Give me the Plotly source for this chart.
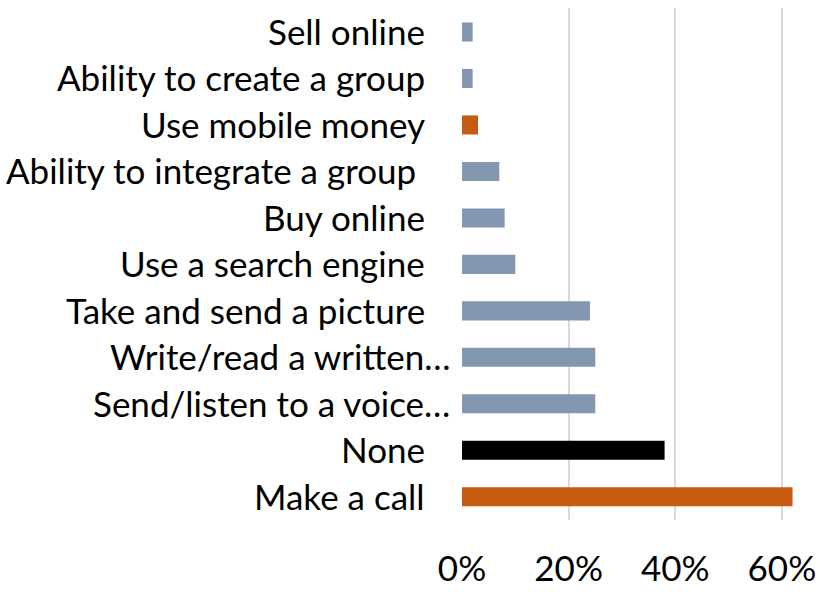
import plotly.graph_objects as go

# Survey: share of respondents able to perform each mobile-phone task
tasks = [
    "Make a call",
    "None",
    "Send/listen to a voice…",
    "Write/read a written…",
    "Take and send a picture",
    "Use a search engine",
    "Buy online",
    "Ability to integrate a group ",
    "Use mobile money",
    "Ability to create a group",
    "Sell online",
]
shares = [0.62, 0.38, 0.25, 0.25, 0.24, 0.10, 0.08, 0.07, 0.03, 0.02, 0.02]
x_ticks = [0, 0.2, 0.4, 0.6]
x_tick_labels = ["0%", "20%", "40%", "60%"]

BLUE_GREY = "#8497B0"
ORANGE = "#C55A11"
BLACK = "#000000"
highlight = {"Make a call": ORANGE, "Use mobile money": ORANGE, "None": BLACK}
colors = [highlight.get(t, BLUE_GREY) for t in tasks]

FONT = "Lato"
FONT_SIZE = 35

fig = go.Figure(
    go.Bar(
        x=shares,
        y=tasks,
        orientation="h",
        marker=dict(color=colors, line=dict(width=0)),
        hoverinfo="x+y",
    )
)

# Category labels drawn as annotations so truncated names can sit further right
annotations = []
for t in tasks:
    shift = -10 if t.endswith("…") else -35
    annotations.append(
        dict(
            x=0,
            xref="paper",
            y=t,
            yref="y",
            text=t.replace(" ", "\u00a0") if t.endswith(" ") else t,
            xanchor="right",
            yanchor="middle",
            xshift=shift,
            yshift=1,
            showarrow=False,
            font=dict(family=FONT, size=FONT_SIZE, color="#000000"),
        )
    )

fig.update_layout(
    width=820,
    height=592,
    margin=dict(l=462, r=20, t=8, b=72, autoexpand=False),
    paper_bgcolor="white",
    plot_bgcolor="white",
    bargap=0.59,
    showlegend=False,
    font=dict(family=FONT, size=FONT_SIZE, color="#000000"),
    annotations=annotations,
    xaxis=dict(
        range=[0, 0.634],
        tickvals=x_ticks,
        ticktext=x_tick_labels,
        showgrid=True,
        gridcolor="#D9D9D9",
        gridwidth=2,
        zeroline=False,
        showline=False,
        ticks="",
        automargin=False,
        ticklabelstandoff=25,
        tickfont=dict(family=FONT, size=FONT_SIZE, color="#000000"),
    ),
    yaxis=dict(
        categoryorder="array",
        categoryarray=tasks,
        showticklabels=False,
        showgrid=False,
        zeroline=False,
        showline=False,
        ticks="",
        automargin=False,
    ),
)

fig.write_html("out.html")
